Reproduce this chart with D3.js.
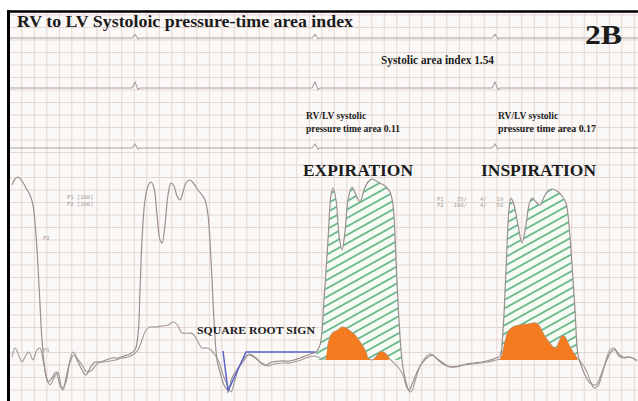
<!DOCTYPE html>
<html lang="en">
<head>
<meta charset="UTF-8" />
<title>RV to LV Systolic pressure-time area index</title>
<script src="https://d3js.org/d3.v7.min.js"></script>
<style>
  body { margin: 0; background: #fff; }
  svg { display: block; }
  .label { font-family: "Liberation Serif", serif; font-weight: bold; fill: #1b1b1b; }
  .mon { font-family: "DejaVu Sans Mono", monospace; font-size: 5.5px; fill: #a39797; white-space: pre; }
</style>
</head>
<body>
<svg id="chart" width="638" height="401"></svg>
<script>
// time in ms, pressure in mmHg
const lvTrace = [
  [10,95],[25,98],[40,99],[60,97],[80,93.5],[100,90],[115,85],[130,70],[145,45],[160,17.5],
  [175,2.5],[190,-3.5],[210,-1.5],[230,1.5],[250,-5],[265,-7.5],[280,-1.5],[300,6.5],[320,10],
  [340,6.5],[360,2.5],[380,0],[400,3.5],[425,6.5],[450,6.5],[480,7.5],[510,8.5],[540,8.5],
  [570,9.5],[600,10.5],[625,12.5],[640,20],[650,42.5],[660,67.5],[675,87.5],[690,94.5],
  [705,96.5],[720,93.5],[735,80],[750,67.5],[760,66],[775,75],[790,90],[805,96],[820,94.5],
  [835,89.5],[850,87.5],[865,91.5],[880,96],[900,97.5],[920,95.5],[940,92.5],[960,90],
  [975,87.5],[990,80],[1005,57.5],[1020,27.5],[1035,7.5],[1050,1.5],[1070,-5],[1090,-7.5],
  [1110,-1.5],[1140,3.5],[1165,6.5],[1190,10],[1220,9],[1250,6.5],[1280,5],[1310,6.5],
  [1350,7],[1400,7],[1450,8.5],[1500,10.5],[1530,11.5],[1550,15],[1570,37.5],[1590,67.5],
  [1605,90],[1615,93.5],[1630,87.5],[1645,70],[1660,62.5],[1675,71.5],[1690,87.5],[1710,94],
  [1730,90],[1750,86.5],[1770,92.5],[1790,96.5],[1810,98],[1840,96.5],[1875,94.5],[1900,91.5],
  [1915,85],[1930,57.5],[1945,27.5],[1960,7.5],[1975,-1.5],[1995,-7.5],[2015,-3.5],[2040,2.5],
  [2065,6.5],[2090,9],[2115,10],[2140,7.5],[2165,5.5],[2200,4],[2240,4.5],[2280,5.5],[2320,6],
  [2360,6.5],[2400,7.5],[2430,8.5],[2450,9.5],[2465,22.5],[2480,52.5],[2495,82.5],[2505,88.5],
  [2520,85],[2540,75],[2560,66],[2580,75],[2595,85],[2610,88.5],[2630,86.5],[2650,85],
  [2670,89],[2690,92],[2710,93],[2735,92],[2760,89.5],[2780,86],[2795,75],[2810,55],
  [2825,32.5],[2840,10],[2855,5],[2875,0],[2900,-4],[2930,-5],[2955,0],[2980,6.5],
  [3005,11.5],[3025,12.5],[3045,9.5],[3070,8.5],[3100,9],[3135,7]
];
const rvTrace = [
  [10,9],[25,13.5],[45,9.5],[60,6.5],[80,10],[95,11.5],[115,7.5],[135,12.5],[150,13.5],
  [165,7.5],[180,0],[200,-5],[220,-1.5],[240,1.5],[260,-6.5],[280,-3.5],[300,7.5],[315,11.5],
  [335,8.5],[360,5],[385,1.5],[410,2.5],[440,6],[470,6.5],[500,7],[530,7.5],[560,8.5],[590,9],
  [620,10.5],[640,12.5],[660,17.5],[680,22.5],[700,24],[730,24],[760,24.5],[790,25],[820,26.5],
  [840,24.5],[860,21],[890,21],[915,20.5],[940,16.5],[960,13.5],[985,13.5],[1005,12.5],
  [1025,10],[1045,6.5],[1065,0],[1085,-4.5],[1105,-8.5],[1125,-2.5],[1145,4],[1170,8.5],
  [1200,10.5],[1230,8.5],[1260,5.5],[1290,4.5],[1320,5.5],[1360,6],[1400,6],[1440,7],
  [1480,8.5],[1520,9.5],[1550,8.5],[1580,8],[1590,15],[1605,20],[1620,21.5],[1640,22.5],
  [1660,24],[1680,23.5],[1700,22],[1720,20.5],[1740,18],[1760,15],[1780,11.5],[1790,8.5],
  [1810,7.5],[1830,9],[1850,11.5],[1875,11],[1895,8.5],[1915,6.5],[1940,4],[1965,0],
  [1985,-6.5],[2005,-8.5],[2030,-1.5],[2050,4.5],[2075,8.5],[2100,10.5],[2130,8.5],[2160,6.5],
  [2190,4.5],[2230,4],[2270,5],[2310,5.5],[2350,6],[2390,6.5],[2430,7.5],[2450,8],[2460,10],
  [2475,16.5],[2490,21.5],[2515,24],[2550,25],[2590,25.5],[2630,26],[2650,24],[2670,20],
  [2695,16.5],[2715,14],[2730,13.5],[2745,16.5],[2760,19.5],[2775,19],[2795,15],[2815,11.5],
  [2835,8.5],[2855,6.5],[2880,2.5],[2900,-2.5],[2920,-6.5],[2940,-5.5],[2960,0],[2980,7.5],
  [3000,12.5],[3020,13.5],[3040,11],[3065,9],[3095,9],[3135,7.5]
];
// square root sign drawn over the RV diastolic trace
const sqrtSign = [[1065,12],[1090,-8],[1180,11.5],[1525,11.5]];
// shaded beats [start, end] in ms
const lvAreaBeats = [[1530,1965],[2445,2845]];
const rvAreaBeats = [[1580,1900],[2450,2840]];
const areaBase = 7.5;
// ECG strip (mV)
const ecgTrace = [[0,0],[610,0],[625,1],[640,-0.25],[650,0],[1510,0],[1525,1],[1540,-0.25],
  [1550,0],[2410,0],[2425,1],[2440,-0.25],[2450,0],[3140,0]];
const ecgStrips = [{base: 38, gain: 3.5}, {base: 88, gain: 6}, {base: 148, gain: 4}];

const svg = d3.select("#chart");
const x = d3.scaleLinear().domain([0, 3140]).range([10, 638]);
const y = d3.scaleLinear().domain([-15, 110]).range([405, 155]);

const defs = svg.append("defs");
defs.append("clipPath").attr("id", "paper")
  .append("rect").attr("x", 9).attr("y", 12).attr("width", 629).attr("height", 389);
const pat = defs.append("pattern").attr("id", "hatch")
  .attr("patternUnits", "userSpaceOnUse")
  .attr("width", 10).attr("height", 7.4)
  .attr("patternTransform", "rotate(-29)");
pat.append("rect").attr("width", 10).attr("height", 7.4).attr("fill", "#f7fbf5");
pat.append("line").attr("x1", 0).attr("x2", 10).attr("y1", 3.7).attr("y2", 3.7)
  .attr("stroke", "#5fb583").attr("stroke-width", 1.7);

const g = svg.append("g").attr("clip-path", "url(#paper)");
g.append("rect").attr("x", 9).attr("y", 12).attr("width", 629).attr("height", 389)
  .attr("fill", "#fbf9f7");

// grid paper
d3.range(9.3, 638, 12.5).forEach(gx => {
  g.append("line").attr("x1", gx).attr("x2", gx).attr("y1", 12).attr("y2", 401)
    .attr("stroke", "#e6d6d2").attr("stroke-width", 1);
});
d3.range(15, 401, 12.5).forEach(gy => {
  g.append("line").attr("x1", 9).attr("x2", 638).attr("y1", gy).attr("y2", gy)
    .attr("stroke", "#e6d6d2").attr("stroke-width", 1);
});

// ECG strips
ecgStrips.forEach(s => {
  g.append("path").datum(ecgTrace)
    .attr("fill", "none").attr("stroke", "#aaa0a0").attr("stroke-width", 1.1)
    .attr("d", d3.line().x(d => x(d[0])).y(d => s.base - d[1] * s.gain));
});

const curve = d3.curveCatmullRom.alpha(0.5);
const inBeat = (b) => (d) => d[0] >= b[0] && d[0] <= b[1];
const area = d3.area().curve(curve)
  .x(d => x(d[0])).y0(y(areaBase)).y1(d => y(Math.max(d[1], areaBase)));

lvAreaBeats.forEach(b => {
  g.append("path").datum(lvTrace.filter(inBeat(b)))
    .attr("fill", "url(#hatch)").attr("d", area);
});

const line = d3.line().curve(curve).x(d => x(d[0])).y(d => y(d[1]));
g.append("path").datum(rvTrace).attr("fill", "none")
  .attr("stroke", "#a29898").attr("stroke-width", 1.1).attr("d", line);
g.append("path").datum(lvTrace).attr("fill", "none")
  .attr("stroke", "#998f8f").attr("stroke-width", 1.2).attr("d", line);

rvAreaBeats.forEach(b => {
  g.append("path").datum(rvTrace.filter(inBeat(b)))
    .attr("fill", "#f57b21").attr("d", area);
});

g.append("path").datum(sqrtSign).attr("fill", "none")
  .attr("stroke", "#5a63c6").attr("stroke-width", 1.5)
  .attr("d", d3.line().x(d => x(d[0])).y(d => y(d[1])));

// monitor labels
const mon = [
  ["P1 [100]", 67, 199], ["P2 [100]", 67, 206], ["P2", 43, 240], ["P1", 43, 352],
  ["P1    35/    4/   19", 437, 201], ["P2   100/    4/   58", 437, 207]
];
mon.forEach(m => g.append("text").attr("class", "mon").attr("x", m[1]).attr("y", m[2]).text(m[0]));

// annotations
const labels = [
  ["RV to LV Systoloic pressure-time area index", 17, 27, 16.5, 336],
  ["2B", 585, 44, 27, 37],
  ["Systolic area index 1.54", 381, 64, 12.5, 113],
  ["RV/LV systolic", 306, 119, 9.5, null],
  ["pressure time area 0.11", 306, 132, 9.5, 94],
  ["RV/LV systolic", 498, 119, 9.5, null],
  ["pressure time area 0.17", 498, 132, 9.5, 98],
  ["EXPIRATION", 303, 176, 16, 110],
  ["INSPIRATION", 481, 176, 16, 115],
  ["SQUARE ROOT SIGN", 197, 334, 10.5, 118]
];
labels.forEach(l => {
  const t = svg.append("text").attr("class", "label")
    .attr("x", l[1]).attr("y", l[2]).style("font-size", l[3] + "px").text(l[0]);
  if (l[4]) t.attr("textLength", l[4]).attr("lengthAdjust", "spacingAndGlyphs");
});

// frame
svg.append("line").attr("x1", 7).attr("x2", 638).attr("y1", 11.5).attr("y2", 11.5)
  .attr("stroke", "#000").attr("stroke-width", 2.5);
svg.append("line").attr("x1", 8.5).attr("x2", 8.5).attr("y1", 10).attr("y2", 401)
  .attr("stroke", "#000").attr("stroke-width", 3);
</script>
</body>
</html>
